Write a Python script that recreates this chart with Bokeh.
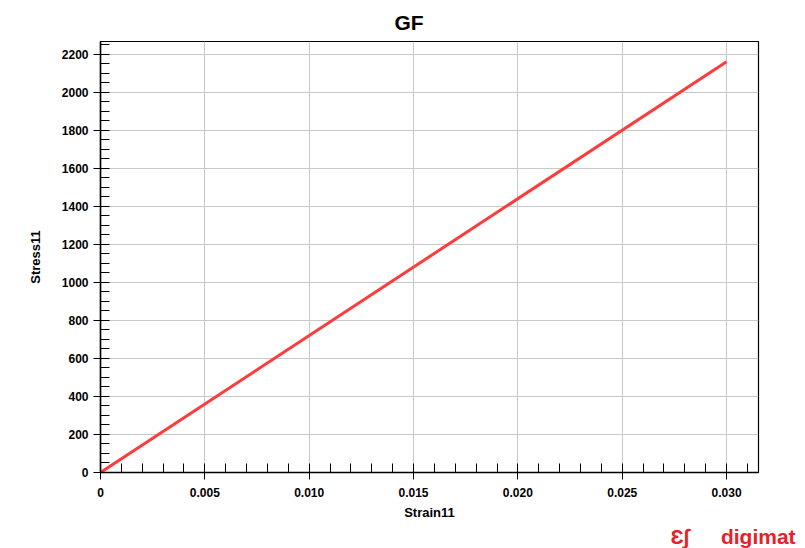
from bokeh.plotting import figure
from bokeh.models import FixedTicker, NumeralTickFormatter, Range1d, Title
from bokeh.embed import file_html
from bokeh.resources import INLINE

# Stress-strain response of the GF material
strain = [0.0, 0.030]
stress = [0.0, 2160.0]

x_major = [0.0, 0.005, 0.010, 0.015, 0.020, 0.025, 0.030]
x_minor = [i * 0.001 for i in range(0, 32)]
y_major = [0, 200, 400, 600, 800, 1000, 1200, 1400, 1600, 1800, 2000, 2200]
y_minor = list(range(0, 2300, 50))

FONT = "Liberation Sans"
BRAND = "#e8202a"

p = figure(width=805, height=548, output_backend="svg", toolbar_location=None,
           x_range=Range1d(0, 0.03153), y_range=Range1d(0, 2266),
           min_border_left=100, min_border_right=47, min_border_top=41,
           min_border_bottom=76)

p.title.text = "GF"
p.title.align = "left"
p.title.offset = 294
p.title.standoff = 16
p.title.text_line_height = 1.0
p.title.text_font = FONT
p.title.text_font_size = "21px"
p.title.text_font_style = "bold"
p.title.text_color = "black"

p.outline_line_color = "black"
p.outline_line_width = 1.2
p.background_fill_color = "white"
p.border_fill_color = "white"

for ax, label in ((p.xaxis, "Strain11"), (p.yaxis, "Stress11")):
    ax.axis_label = label
    ax.axis_label_text_font = FONT
    ax.axis_label_text_font_size = "13px"
    ax.axis_label_text_font_style = "bold"
    ax.axis_label_text_color = "black"
    ax.major_label_text_font = FONT
    ax.major_label_text_font_size = "12px"
    ax.major_label_text_font_style = "bold"
    ax.major_label_text_color = "black"
    ax.axis_line_color = "black"
    ax.axis_line_width = 1.5
    ax.major_tick_line_color = "black"
    ax.minor_tick_line_color = "black"
    ax.major_tick_in = 0
    ax.major_tick_out = 7
    ax.minor_tick_in = 9
    ax.minor_tick_out = 0

p.xaxis.ticker = FixedTicker(ticks=x_major, minor_ticks=x_minor)
p.yaxis.ticker = FixedTicker(ticks=y_major, minor_ticks=y_minor)
p.xaxis.formatter = NumeralTickFormatter(format="0.000")
p.xaxis.major_label_overrides = {0: "0"}
p.xaxis.major_label_standoff = 8
p.yaxis.major_label_standoff = 5
p.xaxis.axis_label_standoff = 5
p.yaxis.axis_label_standoff = 16

p.grid.grid_line_color = "#c8c8c8"
p.grid.grid_line_width = 1

p.line(strain, stress, line_color="#ff3b3b", line_width=3)

# digimat brand mark in the bottom margin
brand = Title(text="Ɛ∫\u2003\u2002digimat", align="left", offset=570, standoff=0,
              text_font=FONT, text_font_size="21px", text_font_style="bold",
              text_color=BRAND)
p.add_layout(brand, "below")

open("out.html", "w").write(file_html(p, INLINE))
